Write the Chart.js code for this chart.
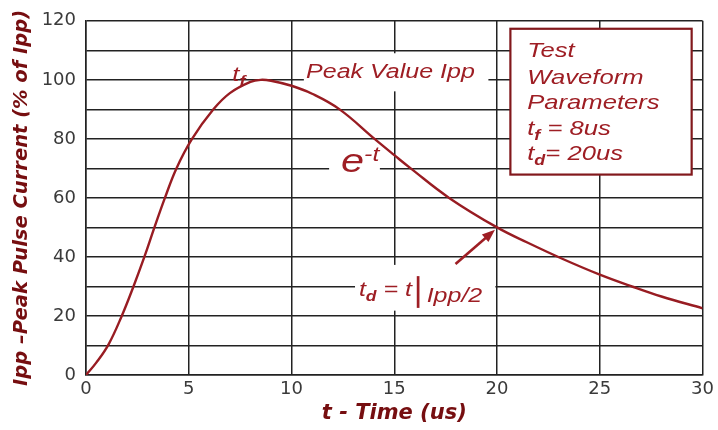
<!DOCTYPE html>
<html>
<head>
<meta charset="utf-8">
<script src="https://cdn.jsdelivr.net/npm/chart.js@4.4.1/dist/chart.umd.min.js"></script>
<style>
  html, body { margin: 0; padding: 0; background: #fff; }
</style>
</head>
<body>
<canvas id="pulse-chart" width="718" height="430"></canvas>
<script>
// waveform: time in us, current in % of Ipp
const timeUs = [0, 0.5, 1.1, 1.74, 2.31, 2.84, 3.33, 3.84, 4.4, 5.16, 6.2, 7.0, 8.0, 8.5, 9.0,
                10.0, 11.0, 12.34, 14.04, 15.0, 15.8, 17.67, 20.0, 21.5, 23.2, 25.0, 26.6, 28.0, 30.0];
const currentPct = [0, 4.2, 10.4, 20, 30, 40, 50, 60, 70, 80, 90, 95.5, 99.3, 100, 99.7,
                    98, 95.3, 90, 80, 74.5, 70, 60, 50, 44.8, 39.3, 34.0, 29.9, 26.6, 22.6];

const xTicks = [0, 5, 10, 15, 20, 25, 30];
const yGrid = [0, 10, 20, 30, 40, 50, 60, 70, 80, 90, 100, 110, 120];
const yTickLabels = [0, 20, 40, 60, 80, 100, 120];

// text in the parameters box (runs so that subscripts work)
const boxLines = [
    [{ t: 'Test' }],
    [{ t: 'Waveform' }],
    [{ t: 'Parameters' }],
    [{ t: 't' }, { t: 'f', k: 0.7, dy: 0.25, bold: true }, { t: ' = 8us' }],
    [{ t: 't' }, { t: 'd', k: 0.7, dy: 0.25, bold: true }, { t: '= 20us' }]
];

const curveColor = 'rgb(152, 28, 34)';
const ink = 'rgb(158, 30, 36)';
const titleInk = 'rgb(118, 14, 16)';
const gridColor = '#222';
const stretch = 1.22; // the lettering in the picture is a bit wide

// where the notes sit, in chart units (t, %)
const notes = {
    tf: { at: [7.12, 99.6], size: 21, runs: [{ t: 't' }, { t: 'f', k: 0.7, dy: 0.25, bold: true }] },
    peak: { at: [10.71, 100.6], size: 20.5, runs: [{ t: 'Peak Value Ipp' }], bg: [10.6, 19.58, 109, 96.1] },
    decay: { at: [12.41, 68.9], size: 34, runs: [{ t: 'e' }, { t: '-t', k: 0.6, dy: -0.3 }], bg: [11.83, 14.3, 77.3, 67.0] },
    td: { at: [13.28, 26.9], size: 20.5,
          runs: [{ t: 't' }, { t: 'd', k: 0.7, dy: 0.25, bold: true }, { t: ' = t' }, { bar: true }, { t: 'Ipp/2', dy: 0.33 }],
          bg: [13.09, 19.92, 37.3, 21.8] }
};
const arrowFrom = [17.98, 37.6];
const arrowTo = [19.9, 49.2];
const box = [20.65, 29.47, 117.3, 67.9];
const boxTextX = 21.47;
const boxBaselines = [107.6, 98.5, 90.1, 81.3, 72.9];

function drawRuns(ctx, runs, x, y, size) {
    ctx.save();
    ctx.translate(x, y);
    ctx.scale(stretch, 1);
    ctx.fillStyle = ink;
    ctx.strokeStyle = ink;
    ctx.textBaseline = 'alphabetic';
    let cx = 0;
    for (const r of runs) {
        if (r.bar) {
            ctx.lineWidth = 2.2;
            ctx.beginPath();
            ctx.moveTo(cx + 5, -size * 0.95);
            ctx.lineTo(cx + 5, size * 0.6);
            ctx.stroke();
            cx += 12;
            continue;
        }
        const fs = size * (r.k || 1);
        ctx.font = 'italic ' + (r.bold ? 'bold ' : '') + fs + 'px "Liberation Sans"';
        ctx.fillText(r.t, cx, (r.dy || 0) * size);
        cx += ctx.measureText(r.t).width;
    }
    ctx.restore();
}

const notesPlugin = {
    id: 'notes',
    beforeDatasetsDraw(chart) {
        const { ctx, scales: { x, y } } = chart;
        ctx.save();
        ctx.fillStyle = '#fff';
        Object.values(notes).forEach(n => {
            if (!n.bg) return;
            const x0 = x.getPixelForValue(n.bg[0]), x1 = x.getPixelForValue(n.bg[1]);
            const y0 = y.getPixelForValue(n.bg[2]), y1 = y.getPixelForValue(n.bg[3]);
            ctx.fillRect(x0, y0, x1 - x0, y1 - y0);
        });
        ctx.restore();
    },
    afterDatasetsDraw(chart) {
        const { ctx, scales: { x, y } } = chart;
        Object.values(notes).forEach(n => {
            drawRuns(ctx, n.runs, x.getPixelForValue(n.at[0]), y.getPixelForValue(n.at[1]), n.size);
        });

        // arrow to the half value point
        const ax0 = x.getPixelForValue(arrowFrom[0]), ay0 = y.getPixelForValue(arrowFrom[1]);
        const ax1 = x.getPixelForValue(arrowTo[0]), ay1 = y.getPixelForValue(arrowTo[1]);
        const ang = Math.atan2(ay1 - ay0, ax1 - ax0);
        ctx.save();
        ctx.strokeStyle = ink;
        ctx.fillStyle = ink;
        ctx.lineWidth = 2.6;
        ctx.beginPath();
        ctx.moveTo(ax0, ay0);
        ctx.lineTo(ax1 - 9 * Math.cos(ang), ay1 - 9 * Math.sin(ang));
        ctx.stroke();
        ctx.beginPath();
        ctx.moveTo(ax1, ay1);
        ctx.lineTo(ax1 - 13 * Math.cos(ang) + 5 * Math.sin(ang), ay1 - 13 * Math.sin(ang) - 5 * Math.cos(ang));
        ctx.lineTo(ax1 - 13 * Math.cos(ang) - 5 * Math.sin(ang), ay1 - 13 * Math.sin(ang) + 5 * Math.cos(ang));
        ctx.closePath();
        ctx.fill();

        // parameters box
        const bx0 = x.getPixelForValue(box[0]), bx1 = x.getPixelForValue(box[1]);
        const by0 = y.getPixelForValue(box[2]), by1 = y.getPixelForValue(box[3]);
        ctx.fillStyle = '#fff';
        ctx.fillRect(bx0, by0, bx1 - bx0, by1 - by0);
        ctx.strokeStyle = 'rgb(130, 24, 28)';
        ctx.lineWidth = 2.2;
        ctx.strokeRect(bx0, by0, bx1 - bx0, by1 - by0);
        ctx.restore();
        boxLines.forEach((line, i) => {
            drawRuns(ctx, line, x.getPixelForValue(boxTextX), y.getPixelForValue(boxBaselines[i]), 21);
        });
    }
};

const ctx = document.getElementById('pulse-chart').getContext('2d');
const chart = new Chart(ctx, {
    type: 'line',
    data: {
        datasets: [{
            data: timeUs.map((t, i) => ({ x: t, y: currentPct[i] })),
            borderColor: curveColor,
            borderWidth: 2.4,
            pointRadius: 0,
            tension: 0.4,
            fill: false
        }]
    },
    options: {
        responsive: false,
        animation: false,
        layout: { padding: { top: 18, right: 13, left: 0, bottom: 0 } },
        plugins: {
            legend: { display: false },
            tooltip: { enabled: false }
        },
        scales: {
            x: {
                type: 'linear',
                min: 0,
                max: 30,
                afterBuildTicks: s => { s.ticks = xTicks.map(v => ({ value: v })); },
                afterFit: s => { s.height = 55; },
                grid: { color: gridColor, lineWidth: 1.5, drawTicks: false },
                border: { color: gridColor, width: 1.5 },
                ticks: {
                    autoSkip: false,
                    maxRotation: 0,
                    padding: 4,
                    color: '#3a3a3a',
                    font: { family: 'DejaVu Sans', size: 18 }
                },
                title: {
                    display: true,
                    text: 't - Time (us)',
                    color: titleInk,
                    padding: { top: 0, bottom: 4 },
                    font: { family: 'DejaVu Sans', size: 21, weight: 'bold', style: 'italic' }
                }
            },
            y: {
                type: 'linear',
                min: 0,
                max: 120,
                afterBuildTicks: s => { s.ticks = yGrid.map(v => ({ value: v })); },
                afterFit: s => { s.width = 86; },
                grid: { color: gridColor, lineWidth: 1.5, drawTicks: false },
                border: { color: gridColor, width: 1.5 },
                ticks: {
                    autoSkip: false,
                    padding: 10,
                    color: '#3a3a3a',
                    font: { family: 'DejaVu Sans', size: 18 },
                    callback: v => yTickLabels.includes(v) ? String(v) : ''
                },
                title: {
                    display: true,
                    text: 'Ipp –Peak Pulse Current (% of Ipp)',
                    color: titleInk,
                    padding: { top: 10, bottom: 0 },
                    font: { family: 'DejaVu Sans', size: 19.5, weight: 'bold', style: 'italic' }
                }
            }
        }
    },
    plugins: [notesPlugin]
});
</script>
</body>
</html>
